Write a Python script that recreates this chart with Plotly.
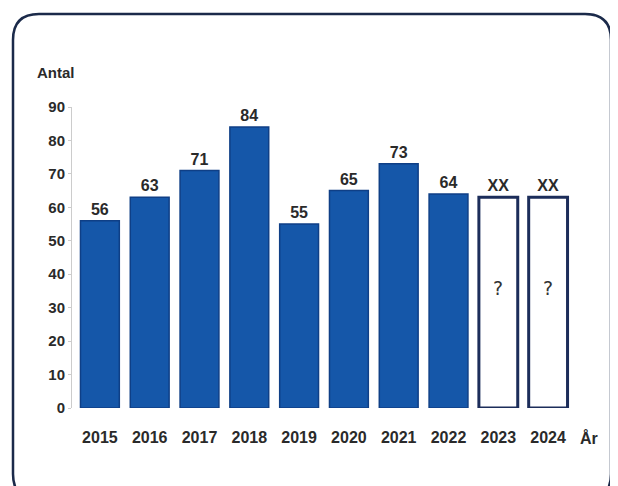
import plotly.graph_objects as go

years = ["2015", "2016", "2017", "2018", "2019", "2020", "2021", "2022", "2023", "2024"]
values = [56, 63, 71, 84, 55, 65, 73, 64]
placeholder_height = 63
placeholder_text = "XX"
placeholder_mark = "?"
y_ticks = [0, 10, 20, 30, 40, 50, 60, 70, 80, 90]

OFF = 8  # page body margin offset
W, H = 618 - OFF, 486 - OFF
L, R, T, B = 72 - OFF, 40, 107 - OFF, 78
pw, ph = W - L - R, H - T - B

FONT = "Liberation Sans Narrow, Liberation Sans, Arial"
TXT = "#2a2a2a"

def px(x):
    return (x - OFF - L) / pw

def py(y):
    return 1 - (y - OFF - T) / ph

fig = go.Figure()

known_x = list(range(len(values)))
future_x = list(range(len(values), len(years)))

fig.add_trace(go.Bar(
    x=known_x, y=values, width=0.78,
    marker=dict(color="#1557a9", line=dict(color="#0f3f86", width=1.5)),
    text=[f"<b>{v}</b>" for v in values], textposition="outside",
    textfont=dict(family=FONT, size=16, color=TXT),
    cliponaxis=False, showlegend=False, hoverinfo="skip",
))
fig.add_trace(go.Bar(
    x=future_x, y=[placeholder_height] * len(future_x), width=0.78,
    marker=dict(color="white", line=dict(color="#1c2d5a", width=3)),
    text=[f"<b>{placeholder_text}</b>"] * len(future_x), textposition="outside",
    textfont=dict(family=FONT, size=16, color=TXT),
    cliponaxis=False, showlegend=False, hoverinfo="skip",
))

for xi in future_x:
    fig.add_annotation(x=xi, y=placeholder_height * 0.57, text=placeholder_mark, showarrow=False,
                       font=dict(family="DejaVu Sans", size=19, color="#333"))

fig.add_annotation(xref="paper", yref="paper", x=px(35), y=py(72), xanchor="left", yanchor="middle",
                   text="<b>Antal</b>", showarrow=False,
                   font=dict(family=FONT, size=15, color=TXT))
fig.add_annotation(xref="paper", yref="paper", x=px(589), y=py(438), xanchor="center", yanchor="middle",
                   text="<b>År</b>", showarrow=False,
                   font=dict(family=FONT, size=16, color=TXT))

r = 26
x0, x1, y0, y1 = 13, 611, 14, 500
path = (f"M {px(x0)},{py(y0 + r)} Q {px(x0)},{py(y0)} {px(x0 + r)},{py(y0)} "
        f"L {px(x1 - r)},{py(y0)} Q {px(x1)},{py(y0)} {px(x1)},{py(y0 + r)} "
        f"L {px(x1)},{py(y1 - r)} Q {px(x1)},{py(y1)} {px(x1 - r)},{py(y1)} "
        f"L {px(x0 + r)},{py(y1)} Q {px(x0)},{py(y1)} {px(x0)},{py(y1 - r)} Z")
fig.add_shape(type="path", xref="paper", yref="paper", path=path,
              line=dict(color="#1b2a4a", width=2.5), layer="below")

fig.update_layout(
    width=W, height=H, margin=dict(l=L, r=R, t=T, b=B, autoexpand=False),
    plot_bgcolor="white", paper_bgcolor="white",
    xaxis=dict(range=[-0.56, 9.6], tickmode="array", tickvals=list(range(len(years))),
               ticktext=[f"<b>{y}</b>" for y in years], automargin=False,
               ticklabelstandoff=18,
               showgrid=False, zeroline=False, showline=False, ticks="",
               tickfont=dict(family=FONT, size=16, color=TXT)),
    yaxis=dict(range=[0, 90], tickmode="array", tickvals=y_ticks, automargin=False,
               ticktext=[f"<b>{t}</b>" for t in y_ticks],
               showgrid=False, zeroline=False, showline=True, linecolor="#cccccc", linewidth=1,
               ticks="outside", ticklen=3, tickcolor="#cccccc",
               tickfont=dict(family=FONT, size=15, color=TXT)),
)

fig.write_html("out.html")
